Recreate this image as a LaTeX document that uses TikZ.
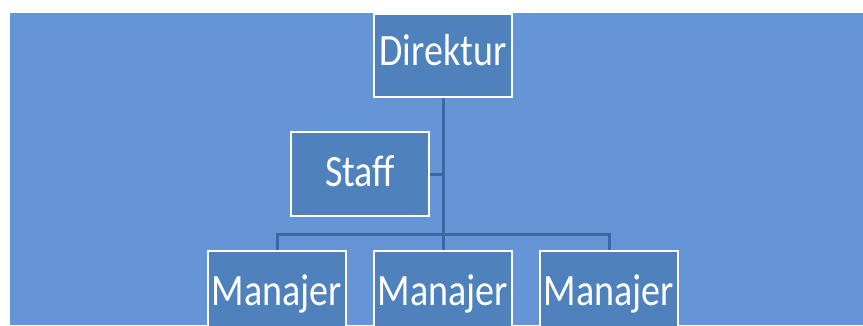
\documentclass[tikz,border=0pt]{standalone}
\usepackage{fontspec}
\setmainfont{Carlito}
\begin{document}
\begin{tikzpicture}[x=1pt,y=-1pt,
  bgcol/.style={fill={rgb,255:red,101;green,149;blue,214}},
  orgbox/.style={draw=white, line width=1.5pt, fill={rgb,255:red,79;green,129;blue,189},
    minimum width=138pt, inner sep=0pt, text=white, font=\fontsize{38}{40}\selectfont, text depth=0pt},
  conn/.style={draw={rgb,255:red,61;green,103;blue,162}, line width=3pt}]
\useasboundingbox (0,0) rectangle (863,325);
\clip (0,0) rectangle (863,325);
\fill[bgcol] (10,13) rectangle (863,325);
\node[orgbox, minimum height=83pt, text height=20pt] (dir) at (443,55.5) {\scalebox{1}[1.18]{Direktur}};
\node[orgbox, minimum height=84pt, text height=24pt] (staff) at (360,174) {\scalebox{1}[1.18]{Staff}};
\node[orgbox, minimum height=94pt, text height=14pt] (m1) at (277,298) {\scalebox{1}[1.18]{Manajer}};
\node[orgbox, minimum height=94pt, text height=14pt] (m2) at (443,298) {\scalebox{1}[1.18]{Manajer}};
\node[orgbox, minimum height=94pt, text height=14pt] (m3) at (609,298) {\scalebox{1}[1.18]{Manajer}};
\coordinate (bar) at (443,234);
\draw[conn] (dir.south) -- (m2.north);
\draw[conn] (staff.east) -- (staff.east -| dir.south);
\draw[conn] (m1.north) -- (m1.north |- bar) -- (m3.north |- bar) -- (m3.north);
\end{tikzpicture}
\end{document}
